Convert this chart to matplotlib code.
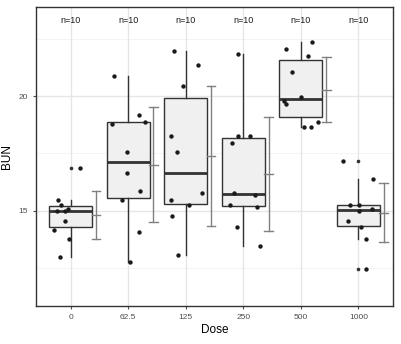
import numpy as np
import matplotlib
matplotlib.use("Agg")
import matplotlib.pyplot as plt

plt.rcParams["font.family"] = ["Liberation Sans", "DejaVu Sans"]

# ---- data ----
doses = ["0", "62.5", "125", "250", "500", "1000"]
bun_0 = [16.86, 15.47, 15.25, 15.08, 14.99, 14.99, 14.55, 14.18, 13.77, 12.98]
bun_62 = [20.89, 19.18, 18.79, 18.88, 17.57, 16.65, 15.86, 15.47, 14.07, 12.78]
bun_125 = [21.97, 21.37, 20.44, 18.25, 17.55, 15.78, 15.46, 15.25, 14.77, 13.06]
bun_250 = [21.85, 18.25, 18.25, 17.96, 15.78, 15.69, 15.25, 15.17, 14.29, 13.46]
bun_500 = [22.37, 22.05, 21.76, 21.06, 19.96, 19.77, 19.65, 18.88, 18.65, 18.65]
bun_1000 = [17.16, 16.39, 15.25, 15.25, 15.08, 14.99, 14.55, 14.28, 13.77, 12.48]

# horizontal jitter of each point (category units)
jit_0 = [0.17, -0.21, -0.17, -0.04, -0.23, -0.09, -0.10, -0.28, -0.02, -0.19]
jit_62 = [-0.25, 0.18, -0.28, 0.29, -0.02, -0.02, 0.20, -0.11, 0.18, 0.04]
jit_125 = [-0.20, 0.21, -0.05, -0.25, -0.15, 0.28, -0.25, 0.06, -0.24, -0.13]
jit_250 = [-0.09, -0.09, 0.12, -0.20, -0.16, 0.20, -0.23, 0.24, -0.11, 0.29]
jit_500 = [0.20, -0.25, 0.12, -0.16, 0.01, -0.30, -0.26, 0.29, 0.06, 0.18]
jit_1000 = [-0.27, 0.25, -0.14, 0.01, 0.23, 0.01, -0.18, 0.05, 0.13, 0.13]

groups = [bun_0, bun_62, bun_125, bun_250, bun_500, bun_1000]
jitters = [jit_0, jit_62, jit_125, jit_250, jit_500, jit_1000]

fig = plt.figure(figsize=(4.02, 3.44), dpi=100)
ax = fig.add_axes([0.0896, 0.1105, 0.888, 0.8692])

pos = np.arange(1, len(doses) + 1)
ax.set_xlim(0.4, 6.6)
ax.set_ylim(10.85, 23.88)

# grid like theme_bw
for y in [12.5, 17.5, 22.5]:
    ax.axhline(y, color="#f2f2f2", lw=0.6, zorder=0)
for y in [15, 20]:
    ax.axhline(y, color="#e6e6e6", lw=1.0, zorder=0)
for x in pos:
    ax.axvline(x, color="#e6e6e6", lw=1.0, zorder=0)

ax.boxplot(groups, positions=pos, widths=0.75, patch_artist=True,
           whis=1.5, manage_ticks=False,
           boxprops=dict(facecolor="#f0f0f0", edgecolor="#333333", lw=1.0),
           medianprops=dict(color="#333333", lw=2.0),
           whiskerprops=dict(color="#333333", lw=1.0),
           capprops=dict(lw=0),
           flierprops=dict(marker="o", markersize=1.6, markerfacecolor="#333333",
                           markeredgecolor="#333333"),
           zorder=2)

# mean +/- sd error bars, shifted right of each box
off, cap = 0.44, 0.075
for p, vals in zip(pos, groups):
    m = np.mean(vals)
    s = np.std(vals, ddof=1)
    xe = p + off
    ax.plot([xe, xe], [m - s, m + s], color="#808080", lw=1.0, zorder=3)
    for yy in (m - s, m, m + s):
        ax.plot([xe - cap, xe + cap], [yy, yy], color="#808080", lw=1.0, zorder=3)

# jittered points
for p, vals, jit in zip(pos, groups, jitters):
    ax.scatter(p + np.array(jit), vals, s=10, color="#1a1a1a", zorder=4, lw=0)

# n labels
for p, vals in zip(pos, groups):
    ax.text(p, 23.28, f"n={len(vals)}", ha="center", va="center",
            fontsize=6.5, color="#1a1a1a")

ax.set_xticks(pos)
ax.set_xticklabels(doses)
ax.set_yticks([15, 20])
ax.tick_params(axis="both", labelsize=6, colors="#4d4d4d", length=2.5, width=0.8)
for sp in ax.spines.values():
    sp.set_color("#333333")
    sp.set_linewidth(1.0)
ax.set_xlabel("Dose", fontsize=8.5, labelpad=2)
ax.set_ylabel("BUN", fontsize=8.5, labelpad=4)

fig.savefig("out.png", dpi=100)
